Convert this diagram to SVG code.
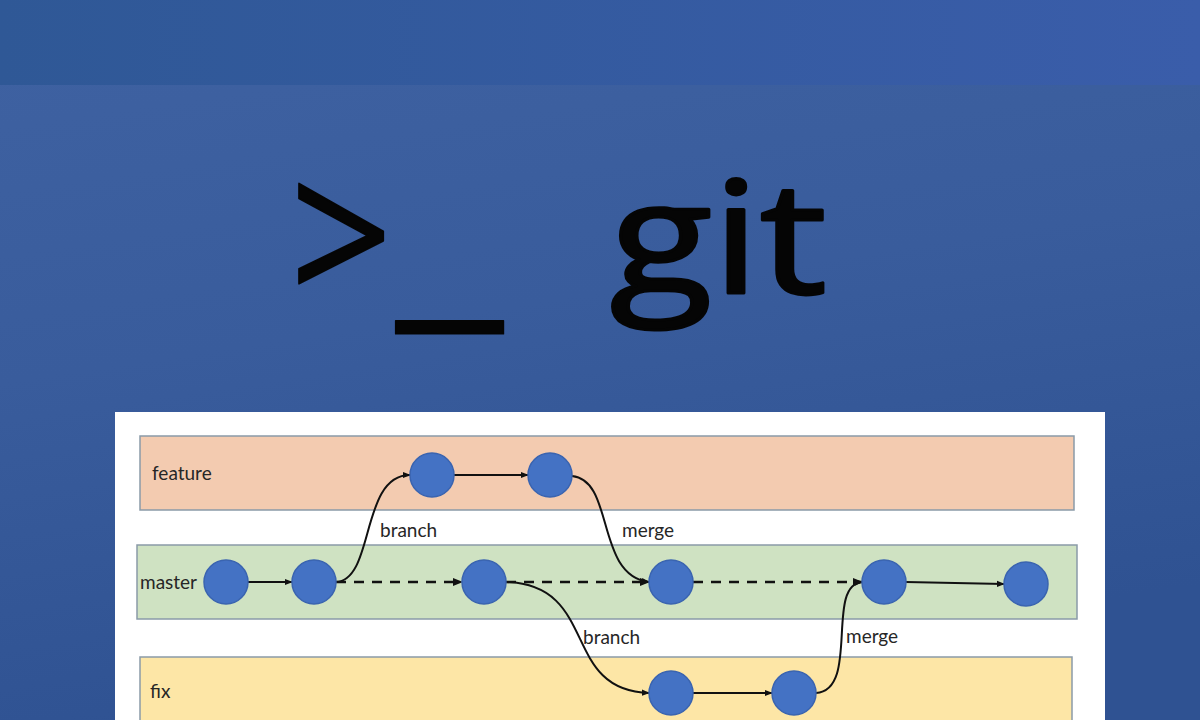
<svg xmlns="http://www.w3.org/2000/svg" width="1200" height="720" viewBox="0 0 1200 720">
<defs>
<linearGradient id="bgTop" x1="0" y1="0" x2="1" y2="0">
<stop offset="0" stop-color="#2f5896"/>
<stop offset="1" stop-color="#3a5daa"/>
</linearGradient>
<linearGradient id="bgMain" x1="0" y1="0" x2="0.25" y2="1">
<stop offset="0" stop-color="#3f62a2"/>
<stop offset="0.5" stop-color="#395c9c"/>
<stop offset="1" stop-color="#2f5292"/>
</linearGradient>
<marker id="arr" viewBox="0 0 10 10" refX="9" refY="5" markerWidth="4" markerHeight="4" orient="auto">
<path d="M0,1 L10,5 L0,9 z" fill="#111"/>
</marker>
<style>
.lane{stroke:#8a9aa8;stroke-width:1.5}
.node{fill:#4472c4;stroke:#3a64b0;stroke-width:1.5}
.lbl{font-family:Lato,"Liberation Sans",sans-serif;font-size:19px;fill:#262626}
.c{fill:none;stroke:#111;stroke-width:2}
.d{fill:none;stroke:#111;stroke-width:2.5;stroke-dasharray:10 8}
.title{font-family:"Open Sans","Liberation Sans",sans-serif;fill:#050505;stroke:#050505;stroke-linejoin:round}
</style>
</defs>
<rect width="1200" height="720" fill="url(#bgMain)"/>
<rect width="1200" height="85" fill="url(#bgTop)"/>
<text class="title" transform="translate(290,308) scale(0.87,1)" x="0" y="0" font-size="206" stroke-width="2">&gt;</text>
<text class="title" transform="translate(396,302) scale(1.2,1)" x="0" y="0" font-size="210" font-weight="600" stroke-width="1">_</text>
<text class="title" x="610" y="293" font-size="155" stroke-width="3" textLength="217" lengthAdjust="spacingAndGlyphs">git</text>
<rect x="115" y="412" width="990" height="308" fill="#ffffff"/>
<g id="lane-feature">
<rect class="lane" x="140" y="436" width="934" height="74" fill="#f3cbb0"/>
<text class="lbl" x="152" y="480">feature</text>
</g>
<g id="lane-master">
<rect class="lane" x="137" y="545" width="940" height="74" fill="#cfe2c2"/>
<text class="lbl" x="140" y="589">master</text>
</g>
<g id="lane-fix">
<rect class="lane" x="140" y="657" width="932" height="70" fill="#fde6a6"/>
<text class="lbl" x="150" y="698">fix</text>
</g>
<g id="connectors">
<path class="c" d="M248,582 L292,582" marker-end="url(#arr)"/>
<path class="c" d="M336,582 C375,580 360,475 410,475" marker-end="url(#arr)"/>
<path class="c" d="M454,475 L528,475" marker-end="url(#arr)"/>
<path class="c" d="M572,476 C615,480 595,575 649,582" marker-end="url(#arr)"/>
<path class="d" d="M336,582 L462,582" marker-end="url(#arr)"/>
<path class="d" d="M506,582 L649,582" marker-end="url(#arr)"/>
<path class="c" d="M506,582 C600,585 560,690 649,693" marker-end="url(#arr)"/>
<path class="c" d="M693,693 L772,693" marker-end="url(#arr)"/>
<path class="c" d="M816,693 C860,690 825,585 862,582" marker-end="url(#arr)"/>
<path class="d" d="M693,582 L862,582" marker-end="url(#arr)"/>
<path class="c" d="M906,582 L1004,584" marker-end="url(#arr)"/>
<text class="lbl" x="380" y="537">branch</text>
<text class="lbl" x="622" y="537">merge</text>
<text class="lbl" x="583" y="644">branch</text>
<text class="lbl" x="846" y="643">merge</text>
</g>
<g id="node-m1"><circle class="node" cx="226" cy="582" r="22"/></g>
<g id="node-m2"><circle class="node" cx="314" cy="582" r="22"/></g>
<g id="node-m3"><circle class="node" cx="484" cy="582" r="22"/></g>
<g id="node-m4"><circle class="node" cx="671" cy="582" r="22"/></g>
<g id="node-m5"><circle class="node" cx="884" cy="582" r="22"/></g>
<g id="node-m6"><circle class="node" cx="1026" cy="584" r="22"/></g>
<g id="node-f1"><circle class="node" cx="432" cy="475" r="22"/></g>
<g id="node-f2"><circle class="node" cx="550" cy="475" r="22"/></g>
<g id="node-x1"><circle class="node" cx="671" cy="693" r="22"/></g>
<g id="node-x2"><circle class="node" cx="794" cy="693" r="22"/></g>
</svg>
